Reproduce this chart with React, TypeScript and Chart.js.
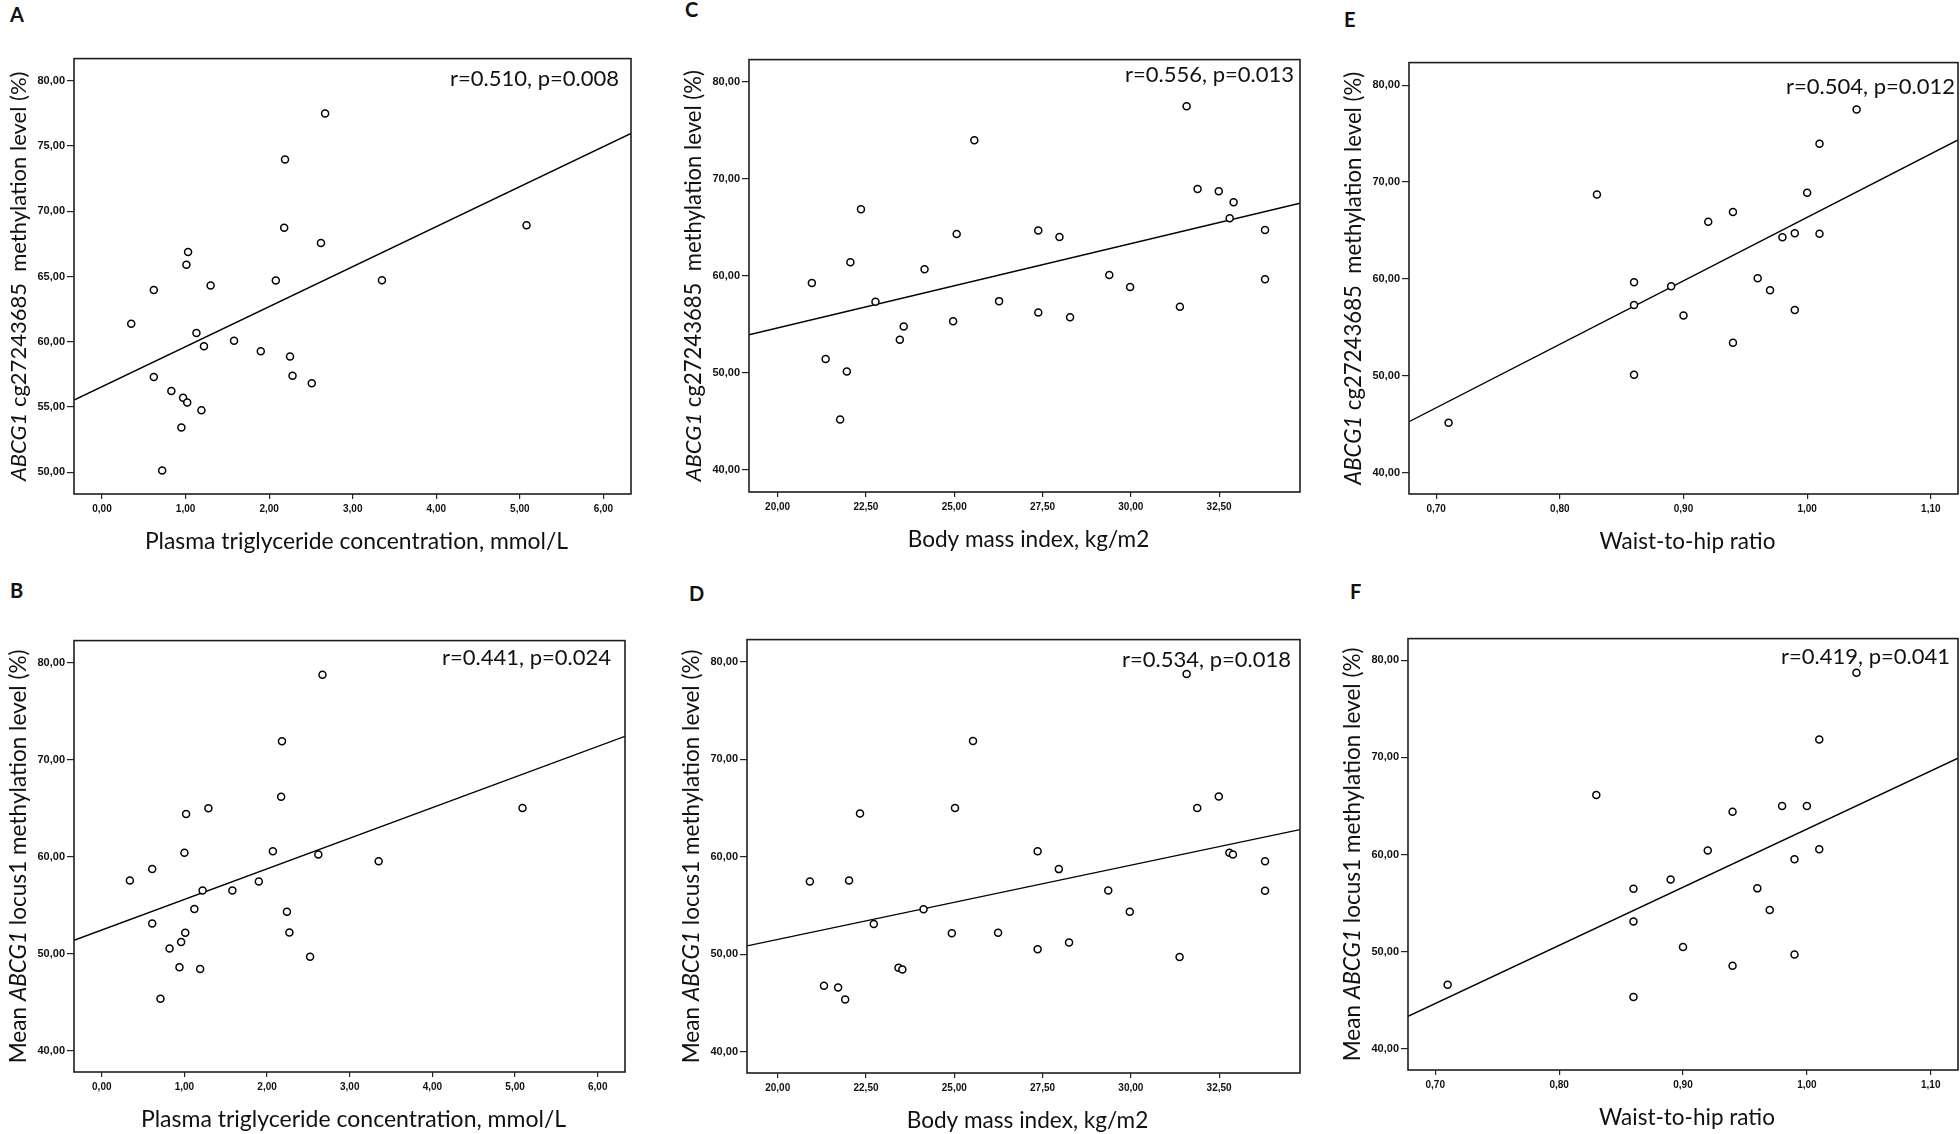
import React, { useEffect, useRef } from "react";
import { Chart, registerables } from "chart.js";

Chart.register(...registerables);

// ---------- Data ----------
// Panel A: plasma triglyceride vs ABCG1 cg27243685 methylation
const tgX_A = [0.35, 0.62, 0.62, 0.72, 0.83, 0.95, 0.97, 1.01, 1.03, 1.02, 1.13, 1.19, 1.22, 1.30, 1.58, 1.90, 2.08, 2.18, 2.19, 2.25, 2.28, 2.51, 2.62, 2.67, 3.35, 5.08];
const cgY_A = [61.37, 63.96, 57.30, 50.13, 56.23, 53.42, 55.71, 65.90, 66.87, 55.34, 60.67, 54.74, 59.65, 64.31, 60.08, 59.27, 64.69, 68.73, 73.96, 58.87, 57.39, 56.82, 67.57, 77.49, 64.72, 68.92];
const fitA = { intercept: 56.56, slope: 3.065 };

// Panel B: plasma triglyceride vs mean ABCG1 locus1 methylation
const tgX_B = [0.34, 0.61, 0.61, 0.71, 0.82, 0.94, 0.96, 1.00, 1.02, 1.01, 1.12, 1.19, 1.22, 1.29, 1.58, 1.90, 2.07, 2.17, 2.18, 2.24, 2.27, 2.52, 2.62, 2.67, 3.35, 5.09];
const meanY_B = [57.58, 58.75, 53.14, 45.39, 50.57, 48.62, 51.23, 60.44, 64.44, 52.18, 54.64, 48.44, 56.55, 65.03, 56.55, 57.47, 60.59, 66.20, 71.93, 54.35, 52.22, 49.72, 60.26, 78.79, 59.56, 65.06];
const fitB = { intercept: 52.47, slope: 3.155 };

// Panel C: BMI vs ABCG1 cg27243685 methylation
const bmiX_C = [20.97, 21.36, 21.77, 21.96, 22.06, 22.36, 22.77, 23.46, 23.57, 24.16, 24.97, 25.07, 25.57, 26.27, 27.38, 27.38, 27.98, 28.28, 29.39, 29.98, 31.39, 31.58, 31.89, 32.49, 32.80, 32.91, 33.80, 33.80];
const cgY_C = [59.27, 51.44, 45.21, 50.16, 61.42, 66.89, 57.34, 53.44, 54.79, 60.69, 55.34, 64.33, 73.99, 57.41, 64.70, 56.25, 64.01, 55.74, 60.11, 58.87, 56.83, 77.49, 68.96, 68.74, 65.94, 67.61, 64.74, 59.67];
const fitC = { intercept: 37.28, slope: 0.8686 };

// Panel D: BMI vs mean ABCG1 locus1 methylation
const bmiX_D = [20.91, 21.31, 21.71, 21.91, 22.02, 22.33, 22.72, 23.42, 23.53, 24.13, 24.93, 25.02, 25.53, 26.24, 27.36, 27.36, 27.96, 28.25, 29.36, 29.97, 31.38, 31.58, 31.88, 32.49, 32.79, 32.89, 33.80, 33.80];
const meanY_D = [57.45, 46.75, 46.57, 45.36, 57.55, 64.42, 53.10, 48.61, 48.43, 54.60, 52.15, 65.00, 71.86, 52.19, 60.55, 50.51, 58.72, 51.20, 56.53, 54.34, 49.71, 78.72, 65.00, 66.17, 60.40, 60.22, 59.53, 56.50];
const fitD = { intercept: 36.27, slope: 0.7618 };

// Panel E: waist-to-hip ratio vs ABCG1 cg27243685 methylation
const whrX_E = [0.71, 0.83, 0.86, 0.86, 0.86, 0.89, 0.90, 0.92, 0.94, 0.94, 0.96, 0.97, 0.98, 0.99, 0.99, 1.00, 1.01, 1.01, 1.04];
const cgY_E = [45.14, 68.71, 59.64, 57.30, 50.09, 59.23, 56.21, 65.90, 66.89, 53.41, 60.07, 58.83, 64.30, 64.70, 56.79, 68.89, 73.95, 64.66, 77.49];
const fitE = { intercept: 0.81, slope: 65.54 };

// Panel F: waist-to-hip ratio vs mean ABCG1 locus1 methylation
const whrX_F = [0.71, 0.83, 0.86, 0.86, 0.86, 0.89, 0.90, 0.92, 0.94, 0.94, 0.96, 0.97, 0.98, 0.99, 0.99, 1.00, 1.01, 1.01, 1.04];
const meanY_F = [46.57, 66.13, 56.48, 53.10, 45.32, 57.43, 50.46, 60.40, 64.40, 48.55, 56.51, 54.28, 64.99, 59.52, 49.69, 64.99, 71.85, 60.55, 78.72];
const fitF = { intercept: 2.72, slope: 59.9 };

// Texts
const statsText = {
  A: "r=0.510, p=0.008",
  B: "r=0.441, p=0.024",
  C: "r=0.556, p=0.013",
  D: "r=0.534, p=0.018",
  E: "r=0.504, p=0.012",
  F: "r=0.419, p=0.041",
};
const xTitleTG = "Plasma triglyceride concentration, mmol/L";
const xTitleBMI = "Body mass index, kg/m2";
const xTitleWHR = "Waist-to-hip ratio";
type Seg = { t: string; italic?: boolean };
const yTitleCG: Seg[] = [{ t: "ABCG1", italic: true }, { t: " cg27243685  methylation level (%)" }];
const yTitleMean: Seg[] = [{ t: "Mean " }, { t: "ABCG1", italic: true }, { t: " locus1 methylation level (%)" }];

// ---------- Panel layout ----------
type Panel = {
  id: string;
  xs: number[];
  ys: number[];
  fit: { intercept: number; slope: number };
  xMin: number; xMax: number; xStep: number;
  yMin: number; yMax: number; yStep: number;
  xTitle: string;
  yTitle: Seg[];
  xTitleW: number;
  yTitleW: number;
  box: [number, number, number, number]; // left, top, right, bottom (page px)
  letter: [number, number];
  rOff: [number, number];
};

const PANELS: Panel[] = [
  { id: "A", xs: tgX_A, ys: cgY_A, fit: fitA, xMin: -0.335, xMax: 6.33, xStep: 1, yMin: 48.33, yMax: 81.7, yStep: 5,
    xTitle: xTitleTG, yTitle: yTitleCG, xTitleW: 424, yTitleW: 410, box: [74, 54, 631, 494], letter: [10, 7], rOff: [12, 20] },
  { id: "B", xs: tgX_B, ys: meanY_B, fit: fitB, xMin: -0.336, xMax: 6.33, xStep: 1, yMin: 37.83, yMax: 82.31, yStep: 10,
    xTitle: xTitleTG, yTitle: yTitleMean, xTitleW: 425, yTitleW: 414, box: [74, 636, 625, 1072], letter: [10, 583], rOff: [14, 17] },
  { id: "C", xs: bmiX_C, ys: cgY_C, fit: fitC, xMin: 19.19, xMax: 34.79, xStep: 2.5, yMin: 37.74, yMax: 82.3, yStep: 10,
    xTitle: xTitleBMI, yTitle: yTitleCG, xTitleW: 242, yTitleW: 411, box: [749, 55, 1300, 492], letter: [685, 2], rOff: [6, 15] },
  { id: "D", xs: bmiX_D, ys: meanY_D, fit: fitD, xMin: 19.13, xMax: 34.79, xStep: 2.5, yMin: 37.81, yMax: 82.26, yStep: 10,
    xTitle: xTitleBMI, yTitle: yTitleMean, xTitleW: 242, yTitleW: 414, box: [747, 635, 1300, 1073], letter: [689, 586], rOff: [9, 20] },
  { id: "E", xs: whrX_E, ys: cgY_E, fit: fitE, xMin: 0.678, xMax: 1.122, xStep: 0.1, yMin: 37.78, yMax: 82.33, yStep: 10,
    xTitle: xTitleWHR, yTitle: yTitleCG, xTitleW: 176, yTitleW: 414, box: [1409, 58, 1958, 494], letter: [1344, 12], rOff: [3, 24] },
  { id: "F", xs: whrX_F, ys: meanY_F, fit: fitF, xMin: 0.678, xMax: 1.122, xStep: 0.1, yMin: 37.8, yMax: 82.24, yStep: 10,
    xTitle: xTitleWHR, yTitle: yTitleMean, xTitleW: 176, yTitleW: 414, box: [1408, 634, 1958, 1070], letter: [1350, 584], rOff: [8, 18] },
];

const LEFT_SPACE = 72;
const TOP_SPACE = 4;
const BOTTOM_SPACE = 64;
const RIGHT_SPACE = 2;
const TITLE_FONT = "Lato, 'Open Sans', sans-serif";
const TICK_FONT = "'Liberation Sans', Arial, sans-serif";

const fmt = (v: number | string) => Number(v).toFixed(2).replace(".", ",");

function PanelChart({ p }: { p: Panel }) {
  const ref = useRef<HTMLCanvasElement | null>(null);
  const [bl, bt, br, bb] = p.box;
  const width = br - bl + LEFT_SPACE + RIGHT_SPACE;
  const height = bb - bt + TOP_SPACE + BOTTOM_SPACE;

  useEffect(() => {
    const canvas = ref.current;
    if (!canvas) return;
    const points = p.xs.map((x, i) => ({ x, y: p.ys[i] }));
    const fitLine = [p.xMin, p.xMax].map((x) => ({ x, y: p.fit.intercept + p.fit.slope * x }));

    const decor = {
      id: "decor_" + p.id,
      afterDraw(chart: any) {
        const { ctx, chartArea: a } = chart;
        ctx.save();
        // frame
        ctx.strokeStyle = "#1e1e1e";
        ctx.lineWidth = 1.6;
        ctx.strokeRect(a.left, a.top, a.right - a.left, a.bottom - a.top);
        // statistics
        ctx.fillStyle = "#111";
        ctx.font = `22px ${TITLE_FONT}`;
        ctx.textAlign = "right";
        ctx.textBaseline = "middle";
        ctx.fillText(statsText[p.id as keyof typeof statsText], a.right - p.rOff[0], a.top + p.rOff[1]);
        // x title, sized to the reference width
        ctx.font = `20px ${TITLE_FONT}`;
        const xw = ctx.measureText(p.xTitle).width;
        const xs = Math.max(18, Math.min(26, (20 * p.xTitleW) / xw));
        ctx.font = `${xs.toFixed(1)}px ${TITLE_FONT}`;
        ctx.textAlign = "center";
        ctx.textBaseline = "alphabetic";
        ctx.fillText(p.xTitle, (a.left + a.right) / 2 + 4, a.bottom + 55);
        // y title (mixed italics), sized to the reference length
        ctx.translate(a.left - 48, (a.top + a.bottom) / 2);
        ctx.rotate(-Math.PI / 2);
        ctx.textAlign = "left";
        const fontAt = (s: Seg, size: number) => `${s.italic ? "italic " : ""}${size.toFixed(1)}px ${TITLE_FONT}`;
        const measureAll = (size: number) =>
          p.yTitle.map((s) => {
            ctx.font = fontAt(s, size);
            return ctx.measureText(s.t).width;
          });
        const w20 = measureAll(20).reduce((u, v) => u + v, 0);
        const ys = Math.max(18, Math.min(26, (20 * p.yTitleW) / w20));
        const widths = measureAll(ys);
        let x = -widths.reduce((u, v) => u + v, 0) / 2;
        p.yTitle.forEach((s, i) => {
          ctx.font = fontAt(s, ys);
          ctx.fillText(s.t, x, 0);
          x += widths[i];
        });
        ctx.restore();
      },
    };

    const chart = new Chart(canvas, {
      type: "scatter",
      data: {
        datasets: [
          {
            type: "scatter",
            data: points,
            pointStyle: "circle",
            pointRadius: 3.5,
            pointBorderWidth: 1.5,
            borderColor: "#000",
            backgroundColor: "#fff",
          } as any,
          {
            type: "line",
            data: fitLine,
            borderColor: "#000",
            borderWidth: 1.4,
            pointRadius: 0,
            fill: false,
            tension: 0,
          } as any,
        ],
      },
      options: {
        animation: false,
        responsive: false,
        events: [],
        layout: { autoPadding: false, padding: { left: 0, top: TOP_SPACE, right: RIGHT_SPACE, bottom: 0 } },
        plugins: { legend: { display: false }, tooltip: { enabled: false }, title: { display: false } },
        scales: {
          x: {
            type: "linear",
            min: p.xMin,
            max: p.xMax,
            afterFit: (s: any) => { s.height = BOTTOM_SPACE; },
            border: { display: false },
            grid: { display: true, drawOnChartArea: false, drawTicks: true, tickLength: 5, color: "#222", lineWidth: 1.2 },
            ticks: {
              stepSize: p.xStep,
              includeBounds: false,
              autoSkip: false,
              maxRotation: 0,
              padding: 4,
              color: "#111",
              font: { family: TICK_FONT, size: 10, weight: "bold" },
              callback: (v: any) => fmt(v),
            },
          },
          y: {
            type: "linear",
            min: p.yMin,
            max: p.yMax,
            afterFit: (s: any) => { s.width = LEFT_SPACE; },
            border: { display: false },
            grid: { display: true, drawOnChartArea: false, drawTicks: true, tickLength: 7, color: "#222", lineWidth: 1.2 },
            ticks: {
              stepSize: p.yStep,
              includeBounds: false,
              autoSkip: false,
              padding: 2,
              color: "#111",
              font: { family: TICK_FONT, size: 11, weight: "bold" },
              callback: (v: any) => fmt(v),
            },
          },
        },
      } as any,
      plugins: [decor],
    });
    return () => chart.destroy();
  }, [p]);

  return (
    <canvas
      ref={ref}
      width={width}
      height={height}
      style={{ position: "absolute", left: bl - LEFT_SPACE, top: bt - TOP_SPACE, width, height }}
    />
  );
}

export default function App() {
  return (
    <div
      style={{
        position: "fixed",
        left: 0,
        top: 0,
        width: 1960,
        height: 1134,
        overflow: "hidden",
        background: "#fff",
      }}
    >
      {PANELS.map((p) => (
        <React.Fragment key={p.id}>
          <div
            style={{
              position: "absolute",
              left: p.letter[0],
              top: p.letter[1] - 3,
              font: `bold 20px ${TITLE_FONT}`,
              lineHeight: "20px",
              color: "#111",
            }}
          >
            {p.id}
          </div>
          <PanelChart p={p} />
        </React.Fragment>
      ))}
    </div>
  );
}
